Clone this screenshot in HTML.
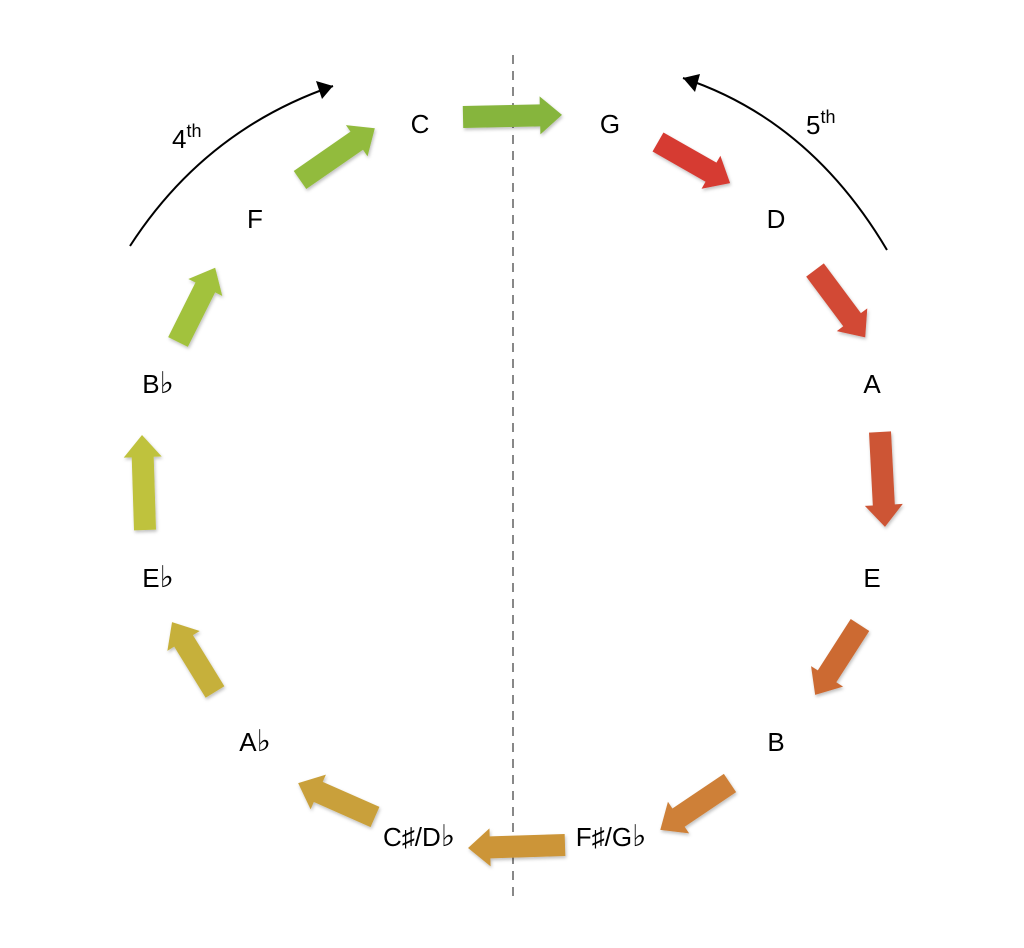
<!DOCTYPE html>
<html><head><meta charset="utf-8"><style>
body{margin:0;background:#fff}
svg text{font-family:"Liberation Sans","DejaVu Sans",sans-serif;font-size:26px;fill:#000}
</style></head><body>
<svg width="1024" height="943" viewBox="0 0 1024 943" xmlns="http://www.w3.org/2000/svg">
<defs>
<filter id="sh" x="-20%" y="-50%" width="140%" height="200%"><feDropShadow dx="1" dy="2" stdDeviation="1.5" flood-color="#000" flood-opacity="0.25"/></filter>
</defs>
<line x1="513" y1="55" x2="513" y2="900" stroke="#888" stroke-width="2" stroke-dasharray="9,7"/>
<path d="M130,246 Q205,130 333,86" fill="none" stroke="#000" stroke-width="2"/>
<path d="M333,86 l-17,-5 l6,18 z" fill="#000"/>
<path d="M887,250 Q810,120 683,78" fill="none" stroke="#000" stroke-width="2"/>
<path d="M683,78 l17,-4 l-5,18 z" fill="#000"/>
<text x="172" y="148" font-size="27">4<tspan font-size="18" dy="-11">th</tspan></text>
<text x="806" y="134" font-size="27">5<tspan font-size="18" dy="-11">th</tspan></text>
<g filter="url(#sh)">
<polygon transform="translate(463,117) rotate(-1.2)" points="0,-11 77,-11 77,-19 99,0 77,19 77,11 0,11" fill="#86b53e"/>
<polygon transform="translate(658,142) rotate(29.7)" points="0,-11 61,-11 61,-19 83,0 61,19 61,11 0,11" fill="#d63a32"/>
<polygon transform="translate(815,270) rotate(53.3)" points="0,-11 62,-11 62,-19 84,0 62,19 62,11 0,11" fill="#d24a34"/>
<polygon transform="translate(880,432) rotate(87)" points="0,-11 73,-11 73,-19 95,0 73,19 73,11 0,11" fill="#cd5534"/>
<polygon transform="translate(860,625) rotate(122.7)" points="0,-11 61,-11 61,-19 83,0 61,19 61,11 0,11" fill="#cc6a32"/>
<polygon transform="translate(730,783) rotate(146.1)" points="0,-11 62,-11 62,-19 84,0 62,19 62,11 0,11" fill="#ce8038"/>
<polygon transform="translate(565,845) rotate(178.2)" points="0,-11 75,-11 75,-19 97,0 75,19 75,11 0,11" fill="#cc9538"/>
<polygon transform="translate(375,817) rotate(203.8)" points="0,-11 62,-11 62,-19 84,0 62,19 62,11 0,11" fill="#c9a03a"/>
<polygon transform="translate(215,692) rotate(238.4)" points="0,-11 60,-11 60,-19 82,0 60,19 60,11 0,11" fill="#c6b03a"/>
<polygon transform="translate(145,530) rotate(268.2)" points="0,-11 73,-11 73,-19 95,0 73,19 73,11 0,11" fill="#bfc23c"/>
<polygon transform="translate(178,342) rotate(296.6)" points="0,-11 61,-11 61,-19 83,0 61,19 61,11 0,11" fill="#a2c23e"/>
<polygon transform="translate(300,180) rotate(325.3)" points="0,-11 69,-11 69,-19 91,0 69,19 69,11 0,11" fill="#92bb3e"/>
</g>
<g text-anchor="middle">
<text x="420" y="133">C</text>
<text x="610" y="133">G</text>
<text x="776" y="228">D</text>
<text x="872" y="393">A</text>
<text x="872" y="587">E</text>
<text x="776" y="751">B</text>
<text x="611" y="846">F♯/G<tspan font-size="30">♭</tspan></text>
<text x="419" y="846">C♯/D<tspan font-size="30">♭</tspan></text>
<text x="255" y="751">A<tspan font-size="30">♭</tspan></text>
<text x="158" y="587">E<tspan font-size="30">♭</tspan></text>
<text x="158" y="393">B<tspan font-size="30">♭</tspan></text>
<text x="255" y="228">F</text>
</g>
</svg>
</body></html>
